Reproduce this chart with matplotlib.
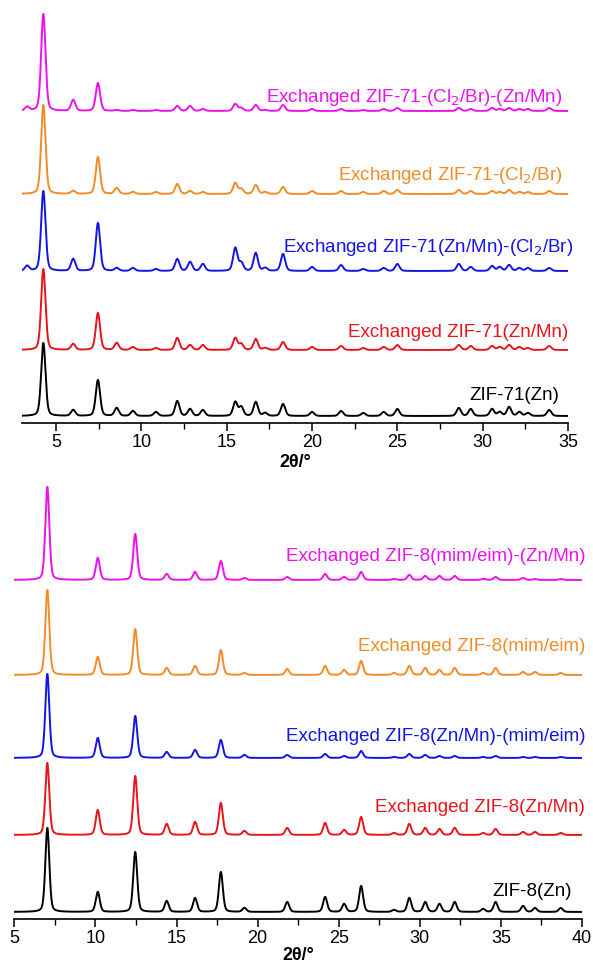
import matplotlib.pyplot as plt
import numpy as np

plt.rcParams['font.family'] = ['Liberation Sans', 'DejaVu Sans']

# ZIF-71 panel: peak positions (2theta) and peak heights per sample
zif71_pos = [3.3, 4.25, 6.0, 7.45, 8.55, 9.5, 10.85, 12.1, 12.85, 13.6, 15.5, 15.85, 16.7,
             17.25, 18.3, 20.0, 21.7, 23.0, 24.2, 25.0, 28.6, 29.3, 30.55, 31.0, 31.55,
             32.15, 32.65, 33.9]
zif71_black = [0, 73, 6, 36, 8, 5, 4, 15, 7, 6, 14, 9, 14, 3, 12, 4, 5, 3, 4, 7, 8, 7, 7, 4, 9, 4, 3, 6]
zif71_red = [0, 81, 6, 37, 7, 3, 2, 12, 5, 5, 12, 6, 11, 2, 8, 3, 4, 2, 3, 5, 5, 4, 4, 3, 5, 3, 2, 4]
zif71_blue = [5, 80, 12, 48, 3, 3, 2, 12, 9, 7, 23, 8, 18, 3, 17, 4, 6, 2, 3, 7, 7, 4, 5, 4, 6, 3, 3, 3]
zif71_orange = [0, 89, 3, 37, 6, 2, 2, 10, 3, 2, 11, 5, 9, 2, 7, 3, 3, 2, 3, 4, 4, 3, 3, 2, 4, 2, 2, 3]
zif71_magenta = [4, 97, 11, 28, 1, 1, 1, 5, 5, 2, 7, 3, 6, 1, 6, 2, 2, 1, 2, 3, 3, 2, 3, 2, 3, 2, 2, 3]
zif71_labels = ['ZIF-71(Zn)', 'Exchanged ZIF-71(Zn/Mn)', 'Exchanged ZIF-71(Zn/Mn)-(Cl$_2$/Br)',
                'Exchanged ZIF-71-(Cl$_2$/Br)', 'Exchanged ZIF-71-(Cl$_2$/Br)-(Zn/Mn)']

# ZIF-8 panel
zif8_pos = [7.03, 10.14, 12.45, 14.39, 16.14, 17.73, 19.18, 21.82, 24.16, 25.33, 26.38, 28.41,
            29.35, 30.33, 31.21, 32.15, 33.9, 34.67, 36.36, 37.1, 38.69]
zif8_black = [84, 20, 60, 11, 14, 40, 4, 10, 15, 8, 26, 2, 14, 10, 8, 10, 3, 10, 6, 4, 4]
zif8_red = [72, 25, 59, 11, 13, 32, 4, 7, 12, 5, 18, 2, 11, 7, 6, 7, 2, 6, 3, 3, 2]
zif8_blue = [84, 20, 42, 6, 8, 18, 3, 3, 4, 2, 7, 1, 4, 3, 2, 2, 1, 2, 1, 1, 1]
zif8_orange = [85, 18, 46, 7, 9, 25, 2, 6, 9, 5, 14, 2, 9, 7, 5, 7, 2, 7, 3, 3, 2]
zif8_magenta = [93, 22, 46, 6, 8, 19, 2, 3, 6, 3, 8, 1, 5, 4, 4, 4, 1, 3, 2, 1, 1]
zif8_labels = ['ZIF-8(Zn)', 'Exchanged ZIF-8(Zn/Mn)', 'Exchanged ZIF-8(Zn/Mn)-(mim/eim)',
               'Exchanged ZIF-8(mim/eim)', 'Exchanged ZIF-8(mim/eim)-(Zn/Mn)']

colors = ['black', '#e8141c', '#1414e6', '#f28c28', '#ee11ee']


def pattern(x, pos, hts, fwhm):
    # pseudo-Voigt peak shapes placed at the read-off positions/heights
    y = np.zeros_like(x)
    for p, h in zip(pos, hts):
        g = np.exp(-4 * np.log(2) * ((x - p) / fwhm) ** 2)
        l = 1 / (1 + 4 * ((x - p) / fwhm) ** 2)
        y += h * (0.7 * g + 0.3 * l)
    return y


def style_axis(ax, xlim, ylim, labelpad):
    ax.set_xlim(*xlim)
    ax.set_ylim(*ylim)
    for s in ['left', 'right', 'top']:
        ax.spines[s].set_visible(False)
    ax.spines['bottom'].set_linewidth(1.2)
    ax.set_yticks([])
    ax.set_xticks(np.arange(5, xlim[1] + 0.1, 5))
    ax.set_xticks(np.arange(7.5, xlim[1], 5), minor=True)
    ax.tick_params(axis='x', which='major', direction='out', length=6, width=1.1, labelsize=13, pad=2)
    ax.tick_params(axis='x', which='minor', direction='out', length=4, width=1.0)
    ax.set_xlabel('2θ/°', fontsize=13, fontweight='bold', labelpad=labelpad)


fig = plt.figure(figsize=(5.93, 9.66), dpi=100)

# top panel
ax1 = fig.add_axes([0.0371, 0.5621, 0.9207, 0.4379])
x1 = np.linspace(3.0, 35.0, 3000)
off1 = [7, 73, 152, 229, 312]
lab1_y = [28, 91, 176, 248, 326]
lab1_x = [34.5, 35.0, 35.3, 34.7, 34.65]
series1 = [zif71_black, zif71_red, zif71_blue, zif71_orange, zif71_magenta]
for hts, c, o, lab, ly, lx in zip(series1, colors, off1, zif71_labels, lab1_y, lab1_x):
    ax1.plot(x1, pattern(x1, zif71_pos, hts, 0.3) + o, color=c, lw=1.4)
    ax1.text(lx, ly, lab, color=c, fontsize=13.5, ha='right', va='center')
style_axis(ax1, (3, 35), (0, 423), 2)

# bottom panel
ax2 = fig.add_axes([0.0243, 0.0487, 0.9572, 0.4648])
x2 = np.linspace(5.0, 40.0, 3500)
off2 = [7, 84, 161, 244, 339]
lab2_y = [27, 111, 182, 272, 362]
lab2_x = [39.4, 40.2, 40.2, 40.2, 40.2]
series2 = [zif8_black, zif8_red, zif8_blue, zif8_orange, zif8_magenta]
for hts, c, o, lab, ly, lx in zip(series2, colors, off2, zif8_labels, lab2_y, lab2_x):
    ax2.plot(x2, pattern(x2, zif8_pos, hts, 0.29) + o, color=c, lw=1.4)
    ax2.text(lx, ly, lab, color=c, fontsize=13.5, ha='right', va='center')
style_axis(ax2, (5, 40), (0, 449), 0)

fig.savefig('out.png', dpi=100)
